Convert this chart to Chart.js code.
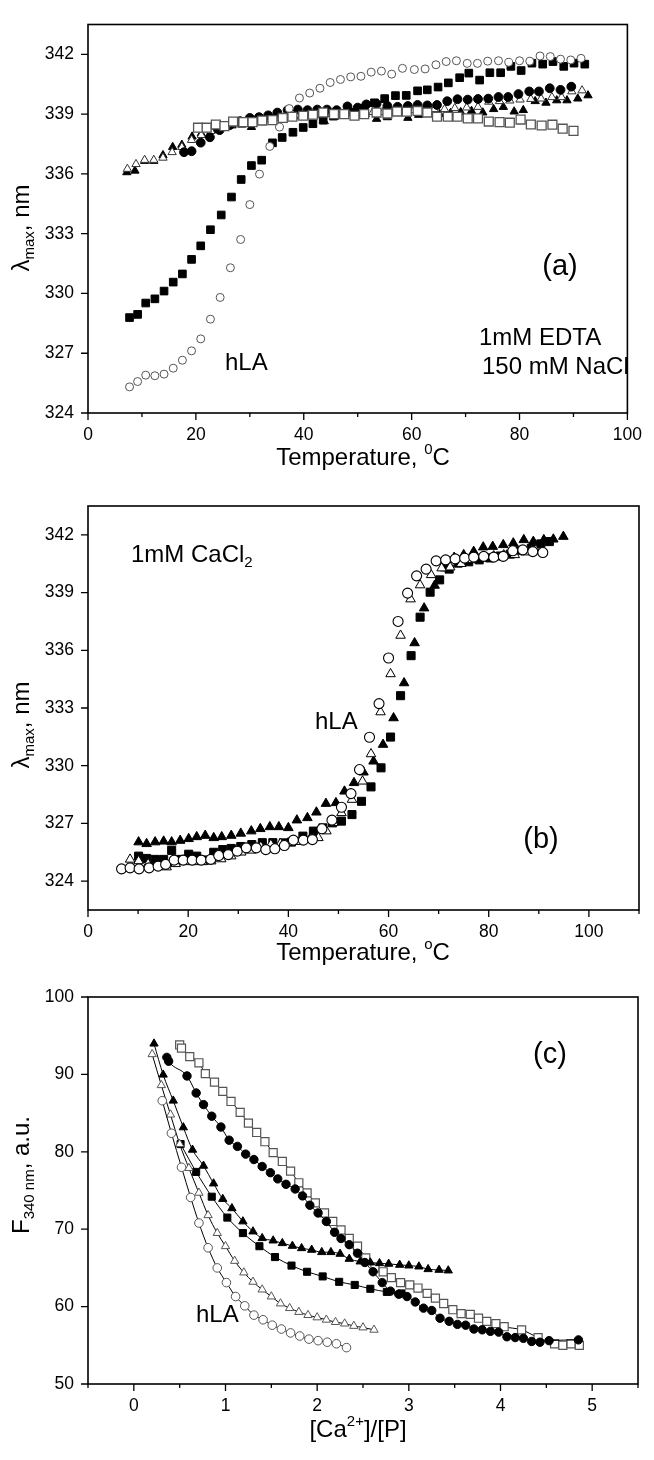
<!DOCTYPE html>
<html>
<head>
<meta charset="utf-8">
<script src="https://cdn.jsdelivr.net/npm/chart.js@4.4.1/dist/chart.umd.min.js"></script>
<style>
  body { margin: 0; background: #fff; width: 654px; height: 1460px; position: relative; overflow: hidden; }
  canvas { position: absolute; left: 0; }
</style>
</head>
<body>
<canvas id="chartA" width="654" height="475" style="top:0"></canvas>
<canvas id="chartB" width="654" height="490" style="top:475px"></canvas>
<canvas id="chartC" width="654" height="495" style="top:965px"></canvas>
<script>
const FONT = '"Liberation Sans", Arial, Helvetica, sans-serif';

/* ---- panel (a): 1mM EDTA, 150 mM NaCl ---- */
const aTicksX = [0, 20, 40, 60, 80, 100];
const aMinorX = [10, 30, 50, 70, 90];
const aTicksY = [324, 327, 330, 333, 336, 339, 342];

const aOpenCircleT = [7.7, 9.2, 10.7, 12.4, 14.1, 15.8, 17.5, 19.2, 20.9, 22.7, 24.5, 26.4, 28.3, 30.0, 31.8, 33.7, 35.5, 37.3, 39.2, 41.1, 43.0, 44.9, 46.8, 48.7, 50.6, 52.5, 54.4, 56.3, 58.3, 60.5, 62.5, 64.5, 66.4, 68.3, 70.3, 72.2, 74.1, 76.1, 78.0, 80.0, 81.9, 83.8, 85.7, 87.6, 89.5, 91.4];
const aOpenCircleL = [325.31, 325.58, 325.9, 325.87, 325.95, 326.25, 326.65, 327.12, 327.72, 328.71, 329.8, 331.29, 332.71, 334.46, 335.99, 337.38, 338.35, 339.28, 339.81, 340.06, 340.3, 340.59, 340.74, 340.87, 340.9, 341.11, 341.16, 341.01, 341.3, 341.24, 341.27, 341.48, 341.64, 341.68, 341.55, 341.55, 341.66, 341.68, 341.6, 341.68, 341.66, 341.92, 341.89, 341.76, 341.72, 341.8];

const aSquareT = [7.7, 9.2, 10.7, 12.4, 14.1, 15.8, 17.5, 19.2, 20.9, 22.7, 24.7, 26.6, 28.4, 30.3, 32.2, 34.2, 36.0, 38.0, 39.9, 41.7, 43.6, 45.5, 47.4, 49.3, 51.2, 53.1, 55.0, 57.0, 59.0, 61.1, 62.9, 64.9, 66.8, 68.9, 70.6, 72.6, 74.5, 76.5, 78.4, 80.3, 82.3, 84.3, 86.2, 88.2, 90.1, 92.1];
const aSquareL = [328.79, 328.95, 329.52, 329.73, 330.12, 330.57, 330.98, 331.71, 332.39, 333.2, 333.94, 334.84, 335.72, 336.42, 336.69, 337.56, 337.83, 338.09, 338.33, 338.52, 338.7, 338.9, 339.0, 339.1, 339.3, 339.57, 339.78, 339.93, 339.94, 340.17, 340.22, 340.36, 340.57, 340.83, 341.06, 340.71, 341.08, 341.08, 341.4, 341.19, 341.56, 341.51, 341.64, 341.4, 341.56, 341.51];

const aCircleT = [17.8, 19.2, 20.9, 22.6, 24.4, 26.3, 28.2, 30.0, 31.7, 33.4, 35.1, 37.0, 38.9, 40.7, 42.5, 44.3, 46.1, 48.1, 50.0, 51.6, 53.5, 55.5, 57.4, 59.3, 61.1, 62.9, 64.7, 66.6, 68.5, 70.4, 72.3, 74.2, 76.1, 77.9, 79.8, 81.8, 83.6, 85.6, 87.6, 89.6];
const aCircleL = [337.09, 337.14, 337.57, 337.84, 338.2, 338.45, 338.65, 338.81, 338.85, 338.94, 339.08, 339.2, 339.23, 339.2, 339.23, 339.23, 339.2, 339.39, 339.33, 339.49, 339.52, 339.41, 339.37, 339.41, 339.46, 339.44, 339.46, 339.65, 339.75, 339.73, 339.76, 339.78, 339.86, 339.86, 340.01, 340.14, 340.14, 340.3, 340.22, 340.38];

const aOpenTriT = [7.3, 8.9, 10.5, 12.2, 13.9, 15.6, 17.4, 19.2, 21.0, 22.8, 24.6, 26.4, 28.2, 30.0, 31.9, 33.8, 35.7, 37.6, 39.5, 41.4, 43.3, 45.2, 47.1, 49.0, 50.9, 52.8, 54.7, 56.6, 58.5, 60.4, 62.3, 64.2, 66.1, 68.0, 70.2, 72.3, 74.3, 76.3, 78.2, 80.1, 82.1, 84.0, 86.0, 87.8, 89.7, 91.6];
const aOpenTriL = [336.25, 336.49, 336.7, 336.7, 336.81, 337.09, 337.35, 337.7, 337.95, 338.15, 338.3, 338.45, 338.55, 338.6, 338.7, 338.75, 338.8, 338.85, 338.9, 338.95, 338.95, 339.0, 339.0, 339.05, 339.05, 339.1, 339.1, 339.15, 339.15, 339.2, 339.2, 339.25, 339.25, 339.3, 339.33, 339.36, 339.62, 339.65, 339.68, 339.73, 339.76, 339.78, 339.85, 339.85, 340.14, 340.19];

const aTriT = [7.2, 8.7, 10.5, 12.2, 13.9, 15.7, 17.4, 19.3, 21.0, 23.0, 25.0, 26.7, 28.5, 30.3, 32.2, 34.2, 36.1, 38.0, 39.9, 41.8, 43.8, 45.7, 47.6, 49.5, 51.4, 53.5, 55.5, 57.4, 59.3, 61.3, 63.2, 65.2, 67.2, 69.1, 71.1, 73.2, 75.2, 77.0, 79.0, 80.7, 82.9, 84.9, 86.9, 88.8, 90.8, 92.7];
const aTriL = [336.08, 336.16, 336.65, 336.65, 336.94, 337.35, 337.46, 337.87, 338.03, 338.2, 338.35, 338.43, 338.47, 338.35, 338.76, 338.7, 338.71, 338.84, 338.87, 338.92, 338.64, 338.87, 338.92, 338.97, 339.0, 338.76, 338.84, 339.13, 338.81, 338.96, 339.0, 339.0, 339.05, 339.1, 339.16, 339.08, 339.25, 339.36, 339.13, 339.2, 339.65, 339.57, 339.69, 339.69, 339.78, 339.94];

const aOpenSqT = [20.4, 22.0, 23.7, 25.3, 26.9, 28.8, 30.5, 32.3, 34.2, 36.1, 37.9, 39.9, 41.7, 43.6, 45.6, 47.5, 49.4, 51.2, 53.5, 55.5, 57.3, 59.1, 61.1, 62.9, 64.7, 66.7, 68.5, 70.4, 72.3, 74.3, 76.3, 78.2, 80.2, 82.1, 84.1, 86.1, 88.0, 90.0];
const aOpenSqL = [338.32, 338.32, 338.48, 338.4, 338.63, 338.6, 338.6, 338.68, 338.7, 338.81, 338.87, 338.92, 338.97, 339.08, 339.0, 339.0, 338.92, 339.0, 339.08, 339.03, 339.13, 339.12, 339.16, 339.08, 338.87, 338.87, 338.87, 338.79, 338.79, 338.63, 338.6, 338.57, 338.73, 338.48, 338.43, 338.47, 338.27, 338.16];

/* ---- panel (b): 1mM CaCl2 ---- */
const bTicksX = [0, 20, 40, 60, 80, 100];
const bMinorX = [10, 30, 50, 70, 90, 110];
const bTicksY = [324, 327, 330, 333, 336, 339, 342];

const bTriT = [10.1, 11.7, 13.4, 15.1, 16.7, 18.4, 20.1, 21.7, 23.4, 25.1, 26.7, 28.6, 30.5, 32.6, 34.4, 36.3, 38.1, 40.0, 41.7, 43.8, 45.6, 47.5, 49.5, 51.2, 53.1, 55.0, 57.0, 58.9, 61.0, 63.1, 65.2, 67.1, 69.2, 71.3, 73.1, 75.0, 77.0, 78.9, 80.8, 82.9, 84.9, 87.0, 88.9, 91.0, 92.9, 94.9];
const bTriL = [326.03, 325.94, 326.03, 326.07, 326.03, 326.11, 326.2, 326.3, 326.37, 326.25, 326.3, 326.37, 326.48, 326.6, 326.72, 326.82, 326.82, 326.77, 327.17, 327.29, 327.58, 328.03, 328.07, 328.67, 329.11, 329.66, 330.23, 331.1, 332.48, 334.3, 336.38, 338.19, 339.37, 340.27, 340.82, 340.96, 341.13, 341.36, 341.39, 341.48, 341.57, 341.74, 341.65, 341.74, 341.77, 341.91];

const bSquareT = [10.1, 11.7, 13.4, 15.1, 16.7, 18.4, 20.1, 21.7, 23.4, 25.1, 26.9, 28.6, 30.5, 32.7, 34.8, 36.9, 39.0, 40.6, 42.9, 45.0, 46.9, 48.8, 50.6, 52.7, 54.6, 56.5, 58.5, 60.4, 62.4, 64.5, 66.3, 68.3, 70.2, 72.1, 73.9, 76.0, 78.1, 80.2, 82.3, 84.3, 86.4, 88.5, 90.4, 92.1];
const bSquareL = [325.3, 325.18, 325.13, 325.13, 325.6, 325.13, 325.4, 325.3, 325.1, 325.5, 325.64, 325.7, 325.8, 325.9, 326.0, 326.0, 325.99, 326.03, 326.34, 326.6, 326.77, 327.03, 327.12, 327.46, 328.15, 328.9, 329.89, 331.49, 333.64, 335.72, 337.72, 339.02, 339.66, 340.22, 340.53, 340.6, 340.7, 340.8, 340.9, 341.0, 341.2, 341.3, 341.53, 341.65];

const bOpenTriT = [8.4, 10.1, 12.0, 13.9, 15.7, 17.5, 19.3, 21.1, 22.9, 24.6, 26.6, 28.6, 30.6, 32.6, 34.5, 36.5, 38.4, 40.4, 42.3, 44.2, 46.0, 47.6, 49.0, 50.6, 52.7, 54.8, 56.5, 58.4, 60.4, 62.4, 64.4, 66.3, 68.5, 70.6, 72.3, 74.5, 76.7, 79.0, 81.0, 83.0, 85.2, 87.3, 89.4];
const bOpenTriL = [325.13, 325.05, 324.9, 324.8, 324.73, 324.9, 325.0, 325.0, 325.0, 325.04, 325.15, 325.3, 325.5, 325.6, 325.8, 325.9, 325.95, 326.0, 326.05, 326.15, 326.25, 326.6, 327.03, 327.55, 328.24, 329.19, 330.61, 332.79, 334.77, 336.77, 338.66, 339.39, 339.92, 340.27, 340.32, 340.5, 340.7, 340.85, 340.9, 340.95, 340.96, 341.1, 341.2];

const bOpenCircleT = [6.7, 8.4, 10.2, 12.2, 14.0, 15.5, 17.2, 19.0, 20.8, 22.6, 24.5, 26.1, 28.0, 29.8, 31.6, 33.6, 35.5, 37.3, 39.2, 41.0, 43.0, 44.8, 46.7, 48.7, 50.6, 52.5, 54.2, 56.2, 58.1, 60.0, 61.9, 63.8, 65.6, 67.5, 69.5, 71.4, 73.3, 75.2, 77.0, 79.0, 81.0, 82.9, 84.8, 86.8, 88.8, 90.8];
const bOpenCircleL = [324.64, 324.69, 324.64, 324.69, 324.78, 324.87, 325.09, 325.09, 325.09, 325.09, 325.13, 325.33, 325.38, 325.56, 325.73, 325.73, 325.64, 325.68, 325.85, 326.13, 326.13, 326.16, 326.72, 327.17, 327.84, 328.55, 329.8, 331.48, 333.23, 335.6, 337.5, 338.97, 339.87, 340.22, 340.65, 340.7, 340.75, 340.79, 340.84, 340.88, 340.84, 340.88, 341.17, 341.22, 341.13, 341.08];

/* ---- panel (c): Ca2+ titration ---- */
const cTicksX = [0, 1, 2, 3, 4, 5];
const cMinorX = [-0.5, 0.5, 1.5, 2.5, 3.5, 4.5, 5.5];
const cTicksY = [50, 60, 70, 80, 90, 100];

const cTriR = [0.22, 0.32, 0.43, 0.54, 0.64, 0.76, 0.87, 0.97, 1.07, 1.19, 1.30, 1.40, 1.52, 1.62, 1.73, 1.83, 1.94, 2.05, 2.15, 2.25, 2.35, 2.47, 2.58, 2.68, 2.78, 2.90, 3.00, 3.11, 3.21, 3.33, 3.43];
const cTriF = [93.97, 89.96, 86.6, 83.15, 80.26, 78.19, 75.9, 73.9, 72.7, 71.0, 69.7, 68.84, 68.53, 68.19, 67.84, 67.54, 67.33, 67.03, 67.03, 66.81, 66.16, 65.82, 65.69, 65.6, 65.52, 65.39, 65.3, 65.17, 64.83, 64.74, 64.66];

const cSquareR = [0.51, 0.68, 0.85, 1.02, 1.19, 1.37, 1.54, 1.72, 1.89, 2.06, 2.24, 2.41, 2.58, 2.76, 2.92];
const cSquareF = [81.0, 77.4, 74.2, 71.5, 69.5, 67.8, 66.4, 65.3, 64.5, 63.9, 63.2, 62.8, 62.3, 61.9, 61.7];

const cCircleR = [0.36, 0.38, 0.58, 0.68, 0.76, 0.85, 0.95, 1.04, 1.13, 1.22, 1.31, 1.40, 1.49, 1.57, 1.66, 1.76, 1.84, 1.92, 2.01, 2.10, 2.19, 2.26, 2.35, 2.44, 2.52, 2.61, 2.71, 2.80, 2.89, 2.98, 3.07, 3.16, 3.25, 3.34, 3.44, 3.53, 3.62, 3.71, 3.80, 3.89, 3.98, 4.07, 4.16, 4.25, 4.34, 4.43, 4.53, 4.85];
const cCircleF = [92.2, 91.7, 89.8, 87.6, 86.1, 84.6, 83.2, 81.5, 80.7, 79.7, 79.0, 78.1, 77.3, 76.5, 75.8, 75.2, 74.3, 73.1, 72.1, 71.0, 69.6, 68.8, 68.0, 66.9, 65.7, 64.5, 63.1, 62.0, 61.6, 61.3, 60.6, 59.8, 59.5, 58.5, 58.1, 57.7, 57.6, 57.1, 57.0, 56.8, 56.7, 56.1, 56.0, 55.9, 55.5, 55.4, 55.6, 55.7];

const cOpenSqR = [0.50, 0.52, 0.61, 0.71, 0.78, 0.88, 0.97, 1.06, 1.16, 1.25, 1.34, 1.43, 1.52, 1.62, 1.71, 1.80, 1.89, 1.98, 2.08, 2.17, 2.26, 2.35, 2.44, 2.53, 2.63, 2.72, 2.81, 2.91, 3.01, 3.10, 3.20, 3.29, 3.38, 3.48, 3.57, 3.67, 3.76, 3.85, 3.95, 4.04, 4.23, 4.41, 4.59, 4.68, 4.77, 4.86];
const cOpenSqF = [93.8, 93.4, 92.3, 91.5, 90.1, 89.0, 87.8, 86.5, 85.1, 83.7, 82.5, 81.3, 79.9, 78.75, 77.5, 76.0, 74.7, 73.4, 72.1, 71.0, 69.9, 68.8, 67.8, 66.3, 65.0, 64.5, 63.75, 63.1, 62.8, 62.4, 61.7, 61.1, 60.4, 59.6, 59.1, 59.0, 58.5, 58.1, 57.8, 57.4, 57.0, 56.0, 55.2, 55.0, 55.2, 55.0];

const cOpenTriR = [0.20, 0.30, 0.40, 0.50, 0.60, 0.71, 0.81, 0.91, 1.00, 1.10, 1.20, 1.30, 1.40, 1.50, 1.60, 1.70, 1.80, 1.90, 2.00, 2.10, 2.20, 2.30, 2.40, 2.50, 2.62];
const cOpenTriF = [92.6, 88.6, 84.8, 81.0, 77.9, 74.7, 71.8, 69.5, 67.8, 65.9, 64.4, 63.2, 62.2, 61.3, 60.4, 59.8, 59.3, 58.9, 58.6, 58.3, 58.0, 57.8, 57.5, 57.3, 57.0];

const cOpenCircleR = [0.31, 0.41, 0.52, 0.62, 0.71, 0.81, 0.91, 1.01, 1.11, 1.21, 1.31, 1.41, 1.51, 1.61, 1.71, 1.81, 1.91, 2.01, 2.11, 2.21, 2.32];
const cOpenCircleF = [86.6, 82.4, 78.0, 74.1, 70.8, 67.6, 65.0, 63.1, 61.3, 60.1, 58.9, 58.3, 57.6, 57.1, 56.6, 56.2, 55.8, 55.6, 55.4, 55.2, 54.7];

function pts(xs, ys) {
  return xs.map((x, i) => ({ x: x, y: ys[i] }));
}

function marks(xs, ys, style, r, fill, stroke, bw) {
  return {
    data: pts(xs, ys),
    pointStyle: style,
    pointRadius: r,
    pointHoverRadius: r,
    pointBackgroundColor: fill,
    pointBorderColor: stroke,
    pointBorderWidth: bw,
    showLine: false
  };
}

function withLine(ds) {
  ds.showLine = true;
  ds.borderColor = '#000';
  ds.borderWidth = 1;
  ds.cubicInterpolationMode = 'monotone';
  return ds;
}

// draws a line of text made of pieces, some of them sub- or superscript
function drawRich(ctx, segs, x, y, size, rot, align) {
  const small = Math.round(size * 0.64);
  const fontOf = s => ((s.sub || s.sup) ? small : size) + 'px ' + FONT;
  ctx.save();
  ctx.translate(x, y);
  ctx.rotate(rot || 0);
  let w = 0;
  segs.forEach(s => { ctx.font = fontOf(s); w += ctx.measureText(s.t).width; });
  let cx = align === 'left' ? 0 : -w / 2;
  ctx.fillStyle = '#000';
  ctx.textAlign = 'left';
  ctx.textBaseline = 'middle';
  segs.forEach(s => {
    ctx.font = fontOf(s);
    const dy = s.sub ? size * 0.32 : (s.sup ? -size * 0.36 : 0);
    ctx.fillText(s.t, cx, dy);
    cx += ctx.measureText(s.t).width;
  });
  ctx.restore();
}

const framePlugin = {
  id: 'frame',
  afterDraw(chart, args, o) {
    const ctx = chart.ctx;
    const a = chart.chartArea;
    const sx = chart.scales.x, sy = chart.scales.y;
    ctx.save();
    ctx.strokeStyle = '#000';
    ctx.lineWidth = 1.6;
    ctx.strokeRect(a.left, a.top, a.right - a.left, a.bottom - a.top);
    ctx.lineWidth = 1.3;
    ctx.beginPath();
    o.xMajor.forEach(v => { const p = sx.getPixelForValue(v); ctx.moveTo(p, a.bottom); ctx.lineTo(p, a.bottom + 7); });
    o.xMinor.forEach(v => { const p = sx.getPixelForValue(v); ctx.moveTo(p, a.bottom); ctx.lineTo(p, a.bottom + 4); });
    o.yMajor.forEach(v => { const p = sy.getPixelForValue(v); ctx.moveTo(a.left, p); ctx.lineTo(a.left - 7, p); });
    ctx.stroke();
    ctx.restore();
    drawRich(ctx, o.xTitle, o.xTitlePos[0], o.xTitlePos[1], 24, 0);
    drawRich(ctx, o.yTitle, o.yTitlePos[0], o.yTitlePos[1], 24, -Math.PI / 2);
    o.notes.forEach(n => drawRich(ctx, n.segs, n.x, n.y, n.size, 0, n.align));
  }
};

function axisOptions(xMin, xMax, xTicks, yMin, yMax, yTicks, xAxisH) {
  const tickFont = { family: FONT, size: 17.5 };
  return {
    x: {
      type: 'linear', min: xMin, max: xMax,
      afterBuildTicks: s => { s.ticks = xTicks.map(v => ({ value: v })); },
      afterFit: s => { s.height = xAxisH; },
      grid: { display: false, drawTicks: false },
      border: { display: false },
      ticks: { color: '#000', font: tickFont, padding: 12, maxRotation: 0, autoSkip: false, callback: v => String(v) }
    },
    y: {
      type: 'linear', min: yMin, max: yMax,
      afterBuildTicks: s => { s.ticks = yTicks.map(v => ({ value: v })); },
      afterFit: s => { s.width = 88; },
      grid: { display: false, drawTicks: false },
      border: { display: false },
      ticks: { color: '#000', font: tickFont, padding: 14, autoSkip: false, callback: v => String(v) }
    }
  };
}

function makeChart(id, datasets, scales, padding, frame) {
  return new Chart(document.getElementById(id), {
    type: 'scatter',
    data: { datasets: datasets },
    options: {
      responsive: false,
      animation: false,
      layout: { padding: padding },
      scales: scales,
      plugins: { legend: { display: false }, tooltip: { enabled: false }, frame: frame }
    },
    plugins: [framePlugin]
  });
}

const GREY = '#555';

makeChart('chartA', [
  marks(aOpenSqT, aOpenSqL, 'rect', 6.3, '#fff', GREY, 1.3),
  marks(aOpenCircleT, aOpenCircleL, 'circle', 4, '#fff', GREY, 1),
  marks(aSquareT, aSquareL, 'rect', 5.4, '#000', '#000', 1),
  marks(aCircleT, aCircleL, 'circle', 4.4, '#000', '#000', 1),
  marks(aOpenTriT, aOpenTriL, 'triangle', 4.8, '#fff', '#333', 1),
  marks(aTriT, aTriL, 'triangle', 4.8, '#000', '#000', 1)
], axisOptions(0, 100, aTicksX, 324, 343.5, aTicksY, 62), { left: 0, right: 16, top: 11, bottom: 0 }, {
  xMajor: aTicksX, xMinor: aMinorX, yMajor: aTicksY,
  xTitle: [{ t: 'Temperature, ' }, { t: '0', sup: true }, { t: 'C' }], xTitlePos: [363, 458],
  yTitle: [{ t: 'λ' }, { t: 'max', sub: true }, { t: ', nm' }], yTitlePos: [22, 228],
  notes: [
    { segs: [{ t: '(a)' }], x: 560, y: 267, size: 29 },
    { segs: [{ t: '1mM EDTA' }], x: 479, y: 338, size: 24, align: 'left' },
    { segs: [{ t: '150 mM NaCl' }], x: 482, y: 367, size: 24, align: 'left' },
    { segs: [{ t: 'hLA' }], x: 225, y: 363, size: 24, align: 'left' }
  ]
});

makeChart('chartB', [
  marks(bOpenCircleT, bOpenCircleL, 'circle', 5, '#fff', '#000', 1.1),
  marks(bOpenTriT, bOpenTriL, 'triangle', 5.5, '#fff', '#000', 1),
  marks(bSquareT, bSquareL, 'rect', 5.7, '#000', '#000', 1),
  marks(bTriT, bTriL, 'triangle', 5.5, '#000', '#000', 1)
], axisOptions(0, 110, bTicksX, 322.5, 343.5, bTicksY, 55), { left: 0, right: 15, top: 31, bottom: 0 }, {
  xMajor: bTicksX, xMinor: bMinorX, yMajor: bTicksY,
  xTitle: [{ t: 'Temperature, ' }, { t: 'o', sup: true }, { t: 'C' }], xTitlePos: [363, 478],
  yTitle: [{ t: 'λ' }, { t: 'max', sub: true }, { t: ', nm' }], yTitlePos: [22, 250],
  notes: [
    { segs: [{ t: '1mM CaCl' }, { t: '2', sub: true }], x: 131, y: 80, size: 24, align: 'left' },
    { segs: [{ t: 'hLA' }], x: 315, y: 247, size: 24, align: 'left' },
    { segs: [{ t: '(b)' }], x: 541, y: 365, size: 29 }
  ]
});

makeChart('chartC', [
  withLine(marks(cOpenCircleR, cOpenCircleF, 'circle', 4.3, '#fff', GREY, 1)),
  withLine(marks(cOpenTriR, cOpenTriF, 'triangle', 4.8, '#fff', GREY, 1)),
  withLine(marks(cSquareR, cSquareF, 'rect', 5, '#000', '#000', 1)),
  withLine(marks(cTriR, cTriF, 'triangle', 4.8, '#000', '#000', 1)),
  withLine(marks(cCircleR, cCircleF, 'circle', 4.2, '#000', '#000', 1)),
  withLine(marks(cOpenSqR, cOpenSqF, 'rect', 5.7, '#fff', GREY, 1.2))
], axisOptions(-0.5, 5.5, cTicksX, 50, 100, cTicksY, 76), { left: 0, right: 16, top: 32, bottom: 0 }, {
  xMajor: cTicksX, xMinor: cMinorX, yMajor: cTicksY,
  xTitle: [{ t: '[Ca' }, { t: '2+', sup: true }, { t: ']/[P]' }], xTitlePos: [358, 465],
  yTitle: [{ t: 'F' }, { t: '340 nm', sub: true }, { t: ', a.u.' }], yTitlePos: [22, 210],
  notes: [
    { segs: [{ t: '(c)' }], x: 550, y: 90, size: 29 },
    { segs: [{ t: 'hLA' }], x: 196, y: 350, size: 24, align: 'left' }
  ]
});
</script>
</body>
</html>
